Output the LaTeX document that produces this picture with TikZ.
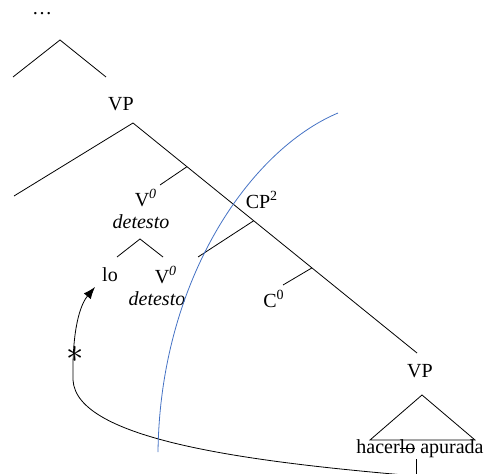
\documentclass[tikz,border=0pt]{standalone}
\usepackage{fontspec}
\setmainfont{Liberation Serif}
\usetikzlibrary{positioning,calc,arrows.meta}
\newcommand{\barre}[1]{\setbox0\hbox{#1}\rlap{\rule[0.24em]{\wd0}{0.05em}}#1}

\begin{document}
\begin{tikzpicture}[x=0.5pt, y=-0.5pt, >={Latex[length=6pt,width=4.5pt]}, font=\fontsize{10}{12}\selectfont]
	\useasboundingbox (0,0) rectangle (490,474);
	% Partie haute de l'arbre
	\node (dots) at (42,14) {\ldots};
	\draw (13,77) -- (60,40) -- (106,77);
	\node (vptop) at (121,104) {VP};
	\coordinate (apex) at (133,123);
	\coordinate (bas) at (417,353);
	\draw (14,196) -- (apex) -- (bas);
	
	% Branches vers la gauche
	\draw ($(apex)!0.19!(bas)$) -- (160,185);
	\draw ($(apex)!0.425!(bas)$) -- (198,257);
	\draw ($(apex)!0.63!(bas)$) -- (283,285);
	\node (cp) at (262,200) {CP\textsuperscript{2}};
	\node (c0) at (274,299) {C\textsuperscript{0}};
	
	% Tête verbale
	\node (v0) at (146,198) {V\textsuperscript{\textit{0}}};
	\node (det) at (141,222) {\textit{detesto}};
	\draw (117,257) -- (140,239) -- (163,257);
	\node (lo) at (110,275) {lo};
	\node (v0b) at (166,275) {V\textsuperscript{\textit{0}}};
	\node (detb) at (157,299) {\textit{detesto}};
	
	% VP du bas
	\node (vpbas) at (420,371) {VP};
	\draw (370,440) -- (422,395) -- (475,440) -- cycle;
	\node (hac) at (420,449) {hacer\barre{lo} apurada};
	\coordinate (trace) at (416,476);
	\draw (416,459) -- (trace);
	
	% Mouvement et courbe bleue
	\draw[->] (trace) .. controls (250,462) and (76,440) .. (73,380)
		.. controls (72,330) and (80,305) .. (95,287);
	\node[inner sep=0pt] (etoile) at (75,354) {\fontsize{18}{18}\selectfont$\ast$};
	\draw[color={rgb,255:red,68;green,114;blue,196}] (338,113) .. controls (250,150) and (160,280) .. (158,452);
\end{tikzpicture}
\end{document}
